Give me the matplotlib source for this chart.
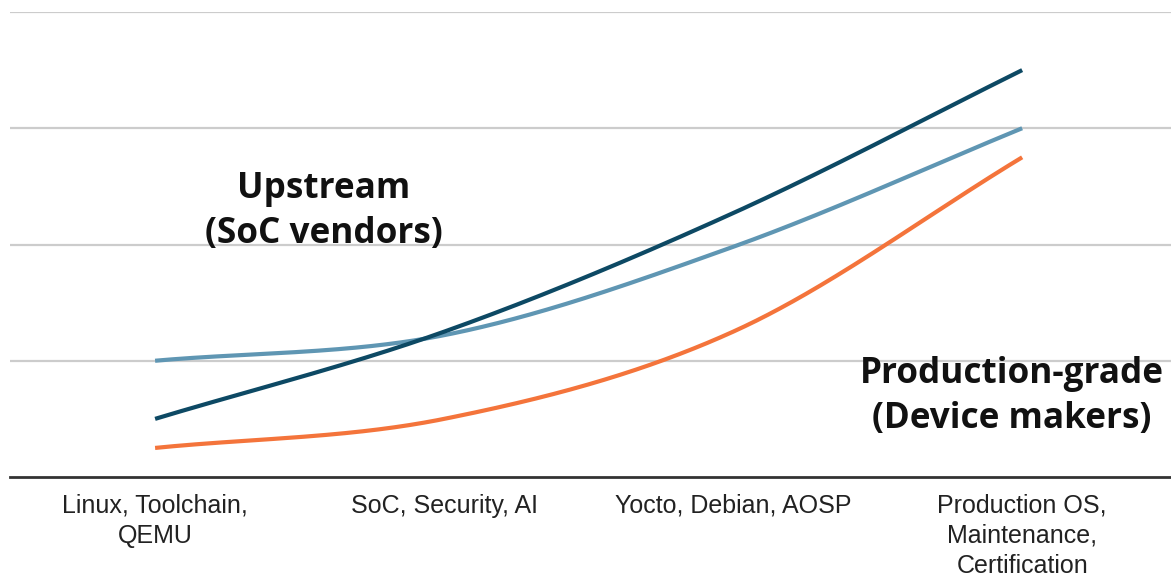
import numpy as np
import matplotlib
matplotlib.use("Agg")
import matplotlib.pyplot as plt

categories = ["Linux, Toolchain,\nQEMU", "SoC, Security, AI",
              "Yocto, Debian, AOSP", "Production OS,\nMaintenance,\nCertification"]
navy_vals = [0.5, 1.25, 2.27, 3.5]
light_vals = [1.0, 1.22, 1.98, 3.0]
orange_vals = [0.25, 0.5, 1.25, 2.75]

NAVY = "#0d4964"
LIGHT = "#5f96b3"
ORANGE = "#f4743b"


def smooth(xs, ys, n=200):
    xs = np.asarray(xs, float)
    ys = np.asarray(ys, float)
    m = np.zeros_like(ys)
    m[1:-1] = (ys[2:] - ys[:-2]) / (xs[2:] - xs[:-2])
    m[0] = (ys[1] - ys[0]) / (xs[1] - xs[0])
    m[-1] = (ys[-1] - ys[-2]) / (xs[-1] - xs[-2])
    out_x, out_y = [], []
    for i in range(len(xs) - 1):
        h = xs[i + 1] - xs[i]
        t = np.linspace(0, 1, n)
        h00 = 2 * t**3 - 3 * t**2 + 1
        h10 = t**3 - 2 * t**2 + t
        h01 = -2 * t**3 + 3 * t**2
        h11 = t**3 - t**2
        out_x.append(xs[i] + t * h)
        out_y.append(h00 * ys[i] + h10 * h * m[i] + h01 * ys[i + 1] + h11 * h * m[i + 1])
    return np.concatenate(out_x), np.concatenate(out_y)


fig = plt.figure(figsize=(11.71, 5.76), dpi=100)
ax = fig.add_axes([10 / 1171, 99 / 576, 1161 / 1171, 465 / 576])

x = np.arange(len(categories))
for vals, col in [(light_vals, LIGHT), (orange_vals, ORANGE), (navy_vals, NAVY)]:
    sx, sy = smooth(x, vals)
    ax.plot(sx, sy, color=col, lw=3, solid_capstyle="butt", zorder=3)

ax.set_xlim(-0.502, 3.515)
ax.set_ylim(0, 4)
ax.set_yticks([1, 2, 3, 4])
ax.yaxis.grid(True, color="#cccccc", lw=1.6)
ax.set_axisbelow(True)
for s in ["top", "right", "left"]:
    ax.spines[s].set_visible(False)
ax.spines["bottom"].set_color("#333333")
ax.spines["bottom"].set_linewidth(2)
ax.tick_params(axis="y", left=False, labelleft=False)
ax.tick_params(axis="x", length=0, pad=12)
ax.set_xticks(x)
ax.set_xticklabels(categories, fontsize=18, family="Liberation Sans",
                   color="#222222", linespacing=1.32)

ax.text((323.5 - 155) / 289, (477 - 212) / 116,
        "Upstream\n(SoC vendors)", ha="center", va="center",
        fontsize=25.3, fontweight="bold", family="Open Sans", color="#111111",
        linespacing=1.33)
ax.text((1012 - 155) / 289, (477 - 397) / 116,
        "Production-grade\n(Device makers)", ha="center", va="center",
        fontsize=25.3, fontweight="bold", family="Open Sans", color="#111111",
        linespacing=1.33, clip_on=False)

fig.savefig("out.png", dpi=100)
